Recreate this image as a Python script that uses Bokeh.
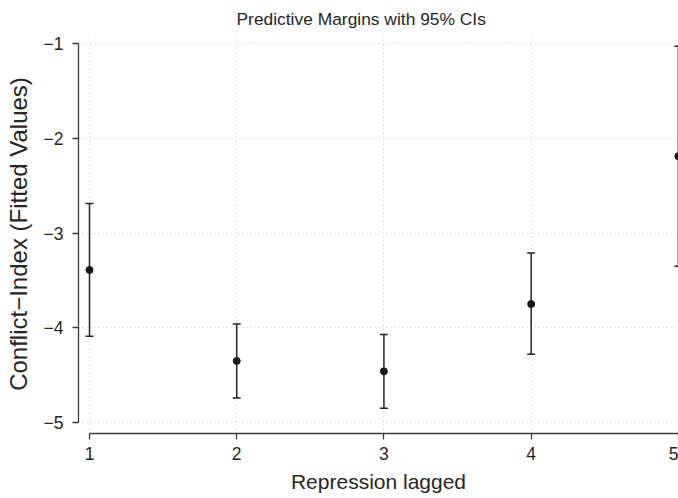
from bokeh.plotting import figure
from bokeh.models import Range1d, Whisker, TeeHead, ColumnDataSource, FixedTicker, Title
from bokeh.embed import file_html
from bokeh.resources import INLINE

# Data
repression = [1, 2, 3, 4, 5]
margin = [-3.39, -4.35, -4.46, -3.75, -2.19]
ci_lower = [-4.09, -4.74, -4.85, -4.28, -3.35]
ci_upper = [-2.69, -3.96, -4.07, -3.21, -1.03]

x_ticks = [1, 2, 3, 4, 5]
x_tick_labels = ["1", "2", "3", "4", "5"]
y_ticks = [-5, -4, -3, -2, -1]
y_tick_labels = ["\u22125", "\u22124", "\u22123", "\u22122", "\u22121"]

title_text = "Predictive Margins with 95% CIs"
x_label = "Repression lagged"
y_label = "Conflict\u2212Index (Fitted Values)"

FONT = "Liberation Sans"
TXT = "#262626"
AX = "#3a3a3a"

src = ColumnDataSource(dict(x=repression, y=margin, lo=ci_lower, hi=ci_upper))

p = figure(width=678, height=498,
           x_range=Range1d(0.9252, 5.001), y_range=Range1d(-5.1158, -0.9053),
           output_backend="svg", toolbar_location=None,
           min_border_left=78, min_border_right=0, min_border_top=33, min_border_bottom=65)
p.title = None
t = Title(text=title_text, align="left", offset=158, text_font=FONT,
          text_font_size="17.4px", text_font_style="normal", text_color=TXT, standoff=12)
p.add_layout(t, "above")

p.outline_line_color = None
p.background_fill_color = "white"
p.border_fill_color = "white"

# grids
for g in (p.xgrid, p.ygrid):
    g.grid_line_color = "#cfcfcf"
    g.grid_line_dash = "1 3"
    g.grid_line_width = 1
p.xgrid.ticker = FixedTicker(ticks=x_ticks)
p.ygrid.ticker = FixedTicker(ticks=y_ticks)

# axes
xa = p.xaxis[0]
xa.ticker = FixedTicker(ticks=x_ticks)
xa.major_label_overrides = {v: s for v, s in zip(x_ticks, x_tick_labels)}
xa.bounds = (1, 5.001)
ya = p.yaxis[0]
ya.ticker = FixedTicker(ticks=y_ticks)
ya.major_label_overrides = {v: s for v, s in zip(y_ticks, y_tick_labels)}
ya.bounds = (-5, -1)
xa.axis_label = x_label
ya.axis_label = y_label
for a in (xa, ya):
    a.axis_line_color = AX
    a.axis_line_width = 1.3
    a.major_tick_line_color = AX
    a.major_tick_line_width = 1.3
    a.major_tick_out = 6
    a.major_tick_in = 0
    a.minor_tick_line_color = None
    a.major_label_text_font = FONT
    a.major_label_text_font_size = "17.5px"
    a.major_label_text_color = TXT
    a.axis_label_text_font = FONT
    a.axis_label_text_font_style = "normal"
    a.axis_label_text_color = TXT
xa.axis_label_text_font_size = "21px"
ya.axis_label_text_font_size = "24px"
xa.major_label_standoff = 7
xa.axis_label_standoff = 7
ya.major_label_standoff = 9
ya.axis_label_standoff = 9
ya.major_label_orientation = "horizontal"

w = Whisker(base="x", lower="lo", upper="hi", source=src,
            line_color="#262626", line_width=1.5,
            upper_head=TeeHead(size=8, line_color="#262626", line_width=1.5),
            lower_head=TeeHead(size=8, line_color="#262626", line_width=1.5))
p.add_layout(w)
p.scatter("x", "y", source=src, size=7, fill_color="#1a1a1a", line_color="#1a1a1a")

open("out.html", "w").write(file_html(p, INLINE))
